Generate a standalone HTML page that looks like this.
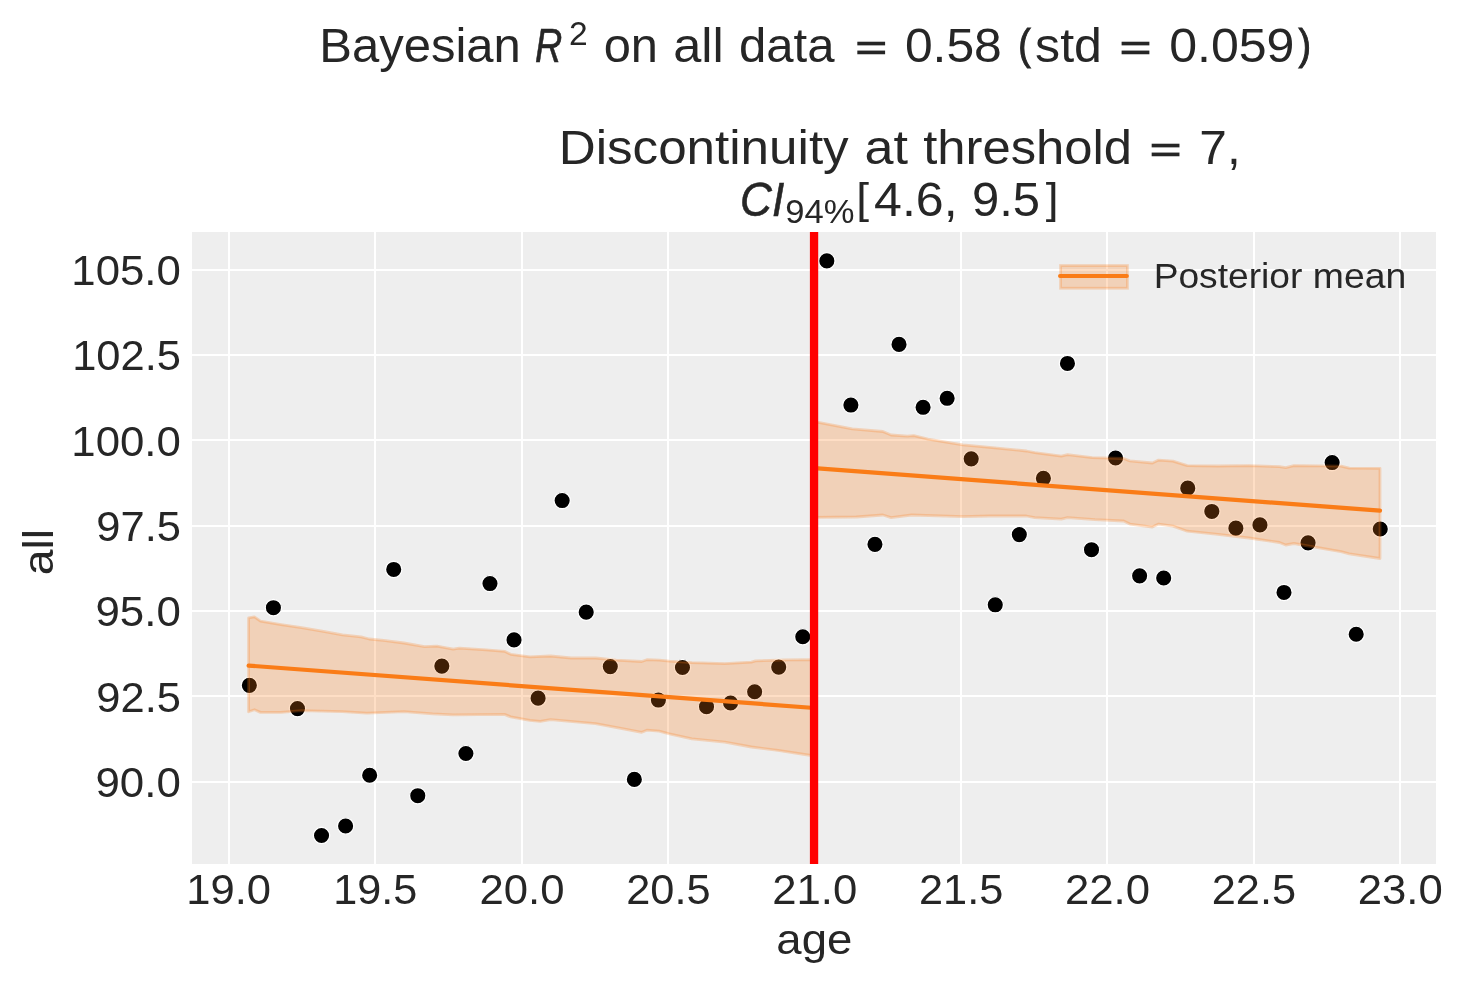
<!DOCTYPE html><html><head><meta charset="utf-8"><title>chart</title><style>html,body{margin:0;padding:0;background:#fff;overflow:hidden;}svg{display:block;will-change:transform;}text{font-family:"Liberation Sans",sans-serif;fill:#262626;}</style></head><body>
<svg width="1463" height="983" viewBox="0 0 1463 983">
<rect x="0" y="0" width="1463" height="983" fill="#ffffff"/>
<rect x="192" y="232" width="1244" height="632" fill="#eeeeee"/>
<g stroke="#ffffff" stroke-width="2"><line x1="229" y1="232" x2="229" y2="864"/><line x1="375" y1="232" x2="375" y2="864"/><line x1="522" y1="232" x2="522" y2="864"/><line x1="668" y1="232" x2="668" y2="864"/><line x1="814" y1="232" x2="814" y2="864"/><line x1="961" y1="232" x2="961" y2="864"/><line x1="1107" y1="232" x2="1107" y2="864"/><line x1="1254" y1="232" x2="1254" y2="864"/><line x1="1400" y1="232" x2="1400" y2="864"/><line x1="192" y1="782" x2="1436" y2="782"/><line x1="192" y1="696" x2="1436" y2="696"/><line x1="192" y1="611" x2="1436" y2="611"/><line x1="192" y1="526" x2="1436" y2="526"/><line x1="192" y1="440" x2="1436" y2="440"/><line x1="192" y1="355" x2="1436" y2="355"/><line x1="192" y1="270" x2="1436" y2="270"/></g>
<g fill="#000000" stroke="#ffffff" stroke-width="1.3"><circle cx="249.35" cy="685.36" r="8.2"/><circle cx="273.41" cy="607.69" r="8.2"/><circle cx="297.47" cy="708.62" r="8.2"/><circle cx="321.54" cy="835.47" r="8.2"/><circle cx="345.60" cy="826.00" r="8.2"/><circle cx="369.66" cy="775.25" r="8.2"/><circle cx="393.72" cy="569.46" r="8.2"/><circle cx="417.78" cy="795.71" r="8.2"/><circle cx="441.84" cy="666.09" r="8.2"/><circle cx="465.91" cy="753.49" r="8.2"/><circle cx="489.97" cy="583.56" r="8.2"/><circle cx="514.03" cy="639.90" r="8.2"/><circle cx="538.09" cy="698.14" r="8.2"/><circle cx="562.15" cy="500.54" r="8.2"/><circle cx="586.21" cy="612.16" r="8.2"/><circle cx="610.28" cy="666.61" r="8.2"/><circle cx="634.34" cy="779.41" r="8.2"/><circle cx="658.40" cy="700.06" r="8.2"/><circle cx="682.46" cy="667.51" r="8.2"/><circle cx="706.52" cy="706.71" r="8.2"/><circle cx="730.58" cy="702.99" r="8.2"/><circle cx="754.65" cy="691.75" r="8.2"/><circle cx="778.71" cy="667.09" r="8.2"/><circle cx="802.77" cy="636.73" r="8.2"/><circle cx="826.83" cy="260.89" r="8.2"/><circle cx="850.89" cy="405.07" r="8.2"/><circle cx="874.95" cy="544.33" r="8.2"/><circle cx="899.02" cy="344.42" r="8.2"/><circle cx="923.08" cy="407.29" r="8.2"/><circle cx="947.14" cy="398.31" r="8.2"/><circle cx="971.20" cy="458.86" r="8.2"/><circle cx="995.26" cy="604.81" r="8.2"/><circle cx="1019.32" cy="534.60" r="8.2"/><circle cx="1043.39" cy="478.32" r="8.2"/><circle cx="1067.45" cy="363.44" r="8.2"/><circle cx="1091.51" cy="549.68" r="8.2"/><circle cx="1115.57" cy="458.02" r="8.2"/><circle cx="1139.63" cy="575.87" r="8.2"/><circle cx="1163.69" cy="577.99" r="8.2"/><circle cx="1187.76" cy="488.16" r="8.2"/><circle cx="1211.82" cy="511.46" r="8.2"/><circle cx="1235.88" cy="528.14" r="8.2"/><circle cx="1259.94" cy="524.88" r="8.2"/><circle cx="1284.00" cy="592.45" r="8.2"/><circle cx="1308.06" cy="542.85" r="8.2"/><circle cx="1332.13" cy="462.57" r="8.2"/><circle cx="1356.19" cy="634.28" r="8.2"/><circle cx="1380.25" cy="529.03" r="8.2"/></g>
<g fill="#fa7c17" fill-opacity="0.25" stroke="#fa7c17" stroke-opacity="0.25" stroke-width="2.8" stroke-linejoin="round">
<polygon points="248.6,617.8 254.4,616.8 260.5,621.1 281.0,624.6 301.5,627.7 322.0,631.2 342.5,634.9 361.0,636.9 369.2,639.0 383.5,640.4 404.0,643.0 424.5,646.7 436.8,646.1 453.2,649.2 459.4,648.2 486.0,649.8 504.5,651.3 510.7,654.3 530.0,656.8 550.5,656.0 571.0,658.0 595.6,658.0 616.1,660.1 641.7,661.5 646.9,659.7 659.2,660.1 669.4,661.1 692.0,662.6 724.8,663.6 751.4,662.1 755.5,660.9 786.3,659.9 814.5,659.7 814.5,756.0 778.1,750.4 751.4,747.0 724.8,742.1 692.0,738.8 669.4,733.9 659.2,731.2 646.9,730.2 641.7,732.3 618.2,727.8 595.6,723.7 550.5,719.6 540.3,721.4 530.0,720.4 510.7,716.9 504.5,714.4 453.2,714.8 432.7,713.8 404.0,711.7 367.0,713.2 342.5,711.7 301.5,710.7 281.0,712.4 260.5,712.4 254.4,709.7 248.6,711.7"/>
<polygon points="814.5,421.8 818.3,422.3 852.2,428.9 882.9,431.5 891.1,435.0 907.5,436.2 913.7,435.6 928.0,439.1 962.9,444.9 989.5,447.3 1026.4,451.0 1034.7,452.6 1061.3,456.1 1067.5,454.7 1092.1,457.6 1123.7,458.5 1129.9,460.9 1152.4,463.0 1158.6,460.1 1172.9,461.1 1187.3,465.6 1218.0,466.0 1248.8,465.6 1279.5,466.7 1285.7,467.7 1293.9,465.6 1341.1,466.2 1349.3,468.1 1380.0,468.3 1380.0,558.5 1349.3,553.8 1341.1,551.7 1293.9,543.5 1285.7,545.0 1279.5,542.5 1248.8,538.0 1218.0,534.3 1187.3,531.2 1172.9,526.1 1158.6,524.1 1152.4,527.1 1129.9,524.1 1123.7,521.0 1095.0,519.6 1067.5,517.6 1061.3,519.1 1034.7,517.6 1026.4,516.0 989.5,516.0 962.9,516.6 911.6,515.0 891.1,517.6 882.9,515.0 856.3,517.0 814.5,517.4"/>
</g>
<g stroke="#fa7c17" stroke-width="4.2" stroke-linecap="round">
<line x1="248.6" y1="665.6" x2="814.5" y2="708.0"/>
<line x1="814.5" y1="468.1" x2="1380.0" y2="510.7"/>
</g>
<rect x="809.9" y="232" width="8.3" height="632" fill="#ff0000"/>
<rect x="1060.55" y="265.55" width="66.9" height="22.7" fill="#fa7c17" fill-opacity="0.25" stroke="#fa7c17" stroke-opacity="0.25" stroke-width="2.8"/>
<line x1="1060.0" y1="276.1" x2="1126.9" y2="276.1" stroke="#fa7c17" stroke-width="4.0" stroke-linecap="round"/>
<text transform="translate(1153.65,288.00) scale(1.0498,1)" font-size="35.40">Posterior</text><text transform="translate(1312.86,288.00) scale(1.0555,1)" font-size="35.40">mean</text>
<text transform="translate(95.49,797.00) scale(1.0279,1)" font-size="42.65">90.0</text>
<text transform="translate(96.32,711.67) scale(1.0192,1)" font-size="42.65">92.5</text>
<text transform="translate(95.49,626.33) scale(1.0279,1)" font-size="42.65">95.0</text>
<text transform="translate(96.32,541.00) scale(1.0192,1)" font-size="42.65">97.5</text>
<text transform="translate(71.29,455.67) scale(1.0262,1)" font-size="42.65">100.0</text>
<text transform="translate(72.13,370.33) scale(1.0194,1)" font-size="42.65">102.5</text>
<text transform="translate(71.29,285.00) scale(1.0262,1)" font-size="42.65">105.0</text>
<text transform="translate(186.32,904.00) scale(1.0210,1)" font-size="42.65">19.0</text>
<text transform="translate(333.13,904.00) scale(1.0122,1)" font-size="42.65">19.5</text>
<text transform="translate(479.47,904.00) scale(1.0248,1)" font-size="42.65">20.0</text>
<text transform="translate(626.27,904.00) scale(1.0161,1)" font-size="42.65">20.5</text>
<text transform="translate(772.22,904.00) scale(1.0248,1)" font-size="42.65">21.0</text>
<text transform="translate(919.02,904.00) scale(1.0161,1)" font-size="42.65">21.5</text>
<text transform="translate(1064.97,904.00) scale(1.0248,1)" font-size="42.65">22.0</text>
<text transform="translate(1211.77,904.00) scale(1.0161,1)" font-size="42.65">22.5</text>
<text transform="translate(1357.72,904.00) scale(1.0248,1)" font-size="42.65">23.0</text>
<text transform="translate(776.37,953.80) scale(1.0891,1)" font-size="41.80">age</text>
<g transform="translate(52.7,573.40) rotate(-90)"><text transform="translate(-1.97,0) scale(1.0879,1)" font-size="42.60">all</text></g>
<text transform="translate(319.28,61.90) scale(1.0055,1)" font-size="48.74">Bayesian</text>
<text transform="translate(535.04,61.90) scale(0.7765,1)" font-size="48.74" font-style="italic" stroke="#262626" stroke-width="0.6">R</text>
<text transform="translate(569.11,45.10) scale(0.9847,1)" font-size="34.11">2</text>
<text transform="translate(603.65,61.90) scale(1.0011,1)" font-size="48.74">on</text><text transform="translate(673.14,61.90) scale(1.0366,1)" font-size="48.74">all</text><text transform="translate(738.96,61.90) scale(1.0071,1)" font-size="48.74">data</text><rect x="857.32" y="41.72" width="27.78" height="3.65" fill="#262626"/><rect x="857.32" y="50.57" width="27.78" height="3.69" fill="#262626"/><text transform="translate(904.88,61.90) scale(1.0221,1)" font-size="48.74">0.58</text><text transform="translate(1018.29,58.96) scale(0.7696,0.8717)" font-size="48.74" stroke="#262626" stroke-width="1.2">(</text><text transform="translate(1035.12,61.90) scale(1.0286,1)" font-size="48.74">std</text><rect x="1121.60" y="41.72" width="27.78" height="3.65" fill="#262626"/><rect x="1121.60" y="50.57" width="27.78" height="3.69" fill="#262626"/><text transform="translate(1169.15,61.90) scale(1.0274,1)" font-size="48.74">0.059</text><text transform="translate(1298.54,58.96) scale(0.7696,0.8717)" font-size="48.74" stroke="#262626" stroke-width="1.2">)</text>
<text transform="translate(558.70,163.90) scale(1.0497,1)" font-size="48.74">Discontinuity</text><text transform="translate(864.51,163.90) scale(1.0698,1)" font-size="48.74">at</text><text transform="translate(923.21,163.90) scale(1.0419,1)" font-size="48.74">threshold</text><rect x="1151.67" y="143.72" width="27.79" height="3.65" fill="#262626"/><rect x="1151.67" y="152.57" width="27.79" height="3.69" fill="#262626"/><text transform="translate(1199.37,163.90) scale(1.0182,1)" font-size="48.74">7,</text>
<text transform="translate(740.07,216.10) scale(0.9055,1)" font-size="48.74" font-style="italic" stroke="#262626" stroke-width="0.6">CI</text>
<text transform="translate(785.28,222.60) scale(1.0130,1)" font-size="34.11">94%</text>
<text transform="translate(856.32,213.14) scale(0.9454,0.8722)" font-size="48.74">[</text><text transform="translate(874.06,216.10) scale(1.0280,1)" font-size="48.74">4.6,</text><text transform="translate(972.00,216.10) scale(1.0042,1)" font-size="48.74">9.5</text><text transform="translate(1045.78,213.14) scale(0.9454,0.8722)" font-size="48.74">]</text>
</svg></body></html>
